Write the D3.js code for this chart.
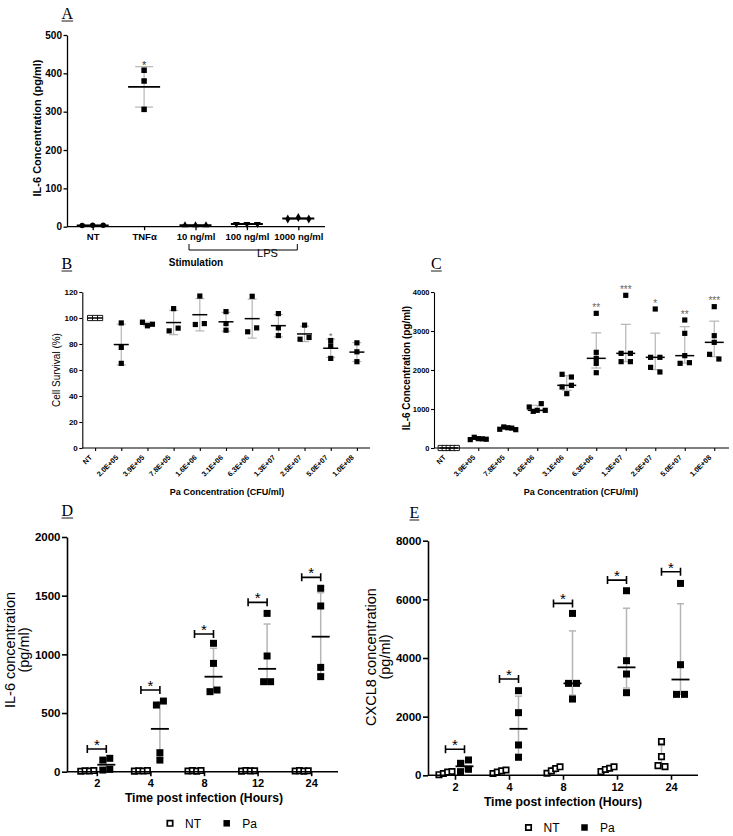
<!DOCTYPE html>
<html><head><meta charset="utf-8">
<script src="https://cdn.jsdelivr.net/npm/d3@7"></script>
<style>body{margin:0;background:#fff}</style>
</head><body>
<script>
// ---------------- DATA ----------------
// Panel A
const aCats = ["NT", "TNFα", "10 ng/ml", "100 ng/ml", "1000 ng/ml"];
const aVals = [[3, 4, 4], [408, 380, 306], [4, 4, 4], [7, 7, 7], [20, 24, 20]];
const aStars = ["", "*", "", "", ""];
const aTicks = [0, 100, 200, 300, 400, 500];

// Panel B
const bCats = ["NT", "2.0E+05", "3.9E+05", "7.8E+05", "1.6E+06", "3.1E+06", "6.3E+06", "1.3E+07", "2.5E+07", "5.0E+07", "1.0E+08"];
const bVals = [[100, 100, 100], [96.2, 77.4, 65.1], [96.8, 94, 95.2], [107.2, 90.1, 92.2], [116.9, 95, 95.7],
  [104.9, 95.7, 90.6], [116.7, 89.4, 92.4], [103.4, 92.4, 86.5], [94.5, 83.7, 85], [82.7, 78.6, 68.9], [80.9, 74, 66.4]];
const bStars = ["", "", "", "", "", "", "", "", "", "*", ""];
const bTicks = [0, 20, 40, 60, 80, 100, 120];

// Panel C
const cCats = ["NT", "3.9E+05", "7.8E+05", "1.6E+06", "3.1E+06", "6.3E+06", "1.3E+07", "2.5E+07", "5.0E+07", "1.0E+08"];
const cVals = [[0, 0, 0, 0, 0], [215, 275, 240, 235, 225], [480, 540, 520, 510, 470], [1051, 940, 966, 1137, 966],
  [1889, 1820, 1564, 1607, 1393], [3453, 2453, 2299, 2171, 1931], [3915, 2427, 2427, 2214, 2214],
  [3564, 2325, 2325, 2068, 1949], [3282, 2940, 2368, 2171, 2188], [3624, 2880, 2709, 2402, 2282]];
const cStars = ["", "", "", "", "", "**", "***", "*", "**", "***"];
const cTicks = [0, 1000, 2000, 3000, 4000];

// Panels D and E
const timeCats = ["2", "4", "8", "12", "24"];
const dNT = [[4, 8, 6, 10], [5, 8, 6, 9], [6, 9, 5, 10], [5, 10, 7, 8], [6, 9, 5, 8]];
const dPa = [[99, 114, 14, 20], [568, 602, 162, 99], [1094, 923, 682, 696], [1349, 986, 767, 767], [1563, 1412, 889, 810]];
const dSig = [193, 696, 1173, 1443, 1656];
const dTicks = [0, 500, 1000, 1500, 2000];

const eNT = [[20, 60, 110, 130], [60, 110, 150, 180], [70, 150, 230, 290], [125, 200, 240, 290], [1147, 636, 330, 295]];
const ePa = [[409, 523, 125, 205], [2885, 2136, 1034, 614], [5520, 3135, 3135, 2600], [6294, 3908, 3454, 2817], [6543, 3772, 2760, 2760]];
const eSig = [886, 3283, 5862, 6657, 6941];
const eTicks = [0, 2000, 4000, 6000, 8000];

const legendNames = ["NT", "Pa"];

// ---------------- HELPERS ----------------
const FONT = '"Liberation Sans", Arial, sans-serif';
const SERIF = '"Liberation Serif", "Times New Roman", serif';
const GRAY = "#b5b5b5";
const svg = d3.select("body").append("svg").attr("width", 733).attr("height", 836).style("display", "block");

function gpQ(s, p) {
  const n = s.length, h = (n + 1) * p;
  if (h <= 1) return s[0];
  if (h >= n) return s[n - 1];
  const lo = Math.floor(h);
  return s[lo - 1] + (h - lo) * (s[lo] - s[lo - 1]);
}
function stats(vals, kind) {
  if (kind === "meanSD") {
    const m = d3.mean(vals), sd = d3.deviation(vals) || 0;
    return { c: m, lo: m - sd, hi: m + sd };
  }
  const s = [...vals].sort(d3.ascending);
  return { c: d3.median(s), lo: gpQ(s, 0.25), hi: gpQ(s, 0.75) };
}
function swarm(vals, y, step, maxW, thr) {
  const pts = vals.map((v, i) => ({ v, i, py: y(v) })).sort((a, b) => a.py - b.py);
  const offs = vals.map(() => 0);
  const clusters = [];
  let cur = [pts[0]];
  for (let k = 1; k < pts.length; k++) {
    if (pts[k].py - pts[k - 1].py < thr) cur.push(pts[k]);
    else { clusters.push(cur); cur = [pts[k]]; }
  }
  clusters.push(cur);
  clusters.forEach(c => {
    const n = c.length;
    if (n < 2) return;
    const s = Math.min(step, maxW / (n - 1));
    c.sort((a, b) => a.i - b.i).forEach((p, j) => offs[p.i] = (j - (n - 1) / 2) * s);
  });
  return offs;
}
function symPath(type, s) {
  switch (type) {
    case "circle": return d3.symbol(d3.symbolCircle, Math.PI * s * s / 4)();
    case "triangle": case "triangleDown": return d3.symbol(d3.symbolTriangle, Math.sqrt(3) / 4 * (s * 1.25) ** 2)();
    case "diamond": return d3.symbol(d3.symbolDiamond, s * s * 0.75)();
    default: return d3.symbol(d3.symbolSquare, s * s)();
  }
}
function drawGroup(g, o) {
  const st = stats(o.vals, o.kind);
  if (o.err !== false) {
    const ew = o.errW || 1.2;
    g.append("line").attr("x1", o.x).attr("x2", o.x).attr("y1", o.y(st.lo)).attr("y2", o.y(st.hi))
      .attr("stroke", GRAY).attr("stroke-width", ew);
    [st.lo, st.hi].forEach(v => g.append("line").attr("x1", o.x - o.cap).attr("x2", o.x + o.cap)
      .attr("y1", o.y(v)).attr("y2", o.y(v)).attr("stroke", GRAY).attr("stroke-width", ew));
  }
  const offs = swarm(o.vals, o.y, o.step, o.maxW, o.thr);
  const d = symPath(o.sym, o.size);
  o.vals.forEach((v, i) => {
    g.append("path").attr("d", d)
      .attr("transform", `translate(${o.x + offs[i]},${o.y(v)})` + (o.sym === "triangleDown" ? " rotate(180)" : ""))
      .attr("fill", o.open ? "#fff" : "#000")
      .attr("stroke", o.open ? "#000" : "none")
      .attr("stroke-width", o.open ? o.sw : 0);
  });
  if (o.mean !== false) {
    g.append("line").attr("x1", o.x - o.half).attr("x2", o.x + o.half).attr("y1", o.y(st.c)).attr("y2", o.y(st.c))
      .attr("stroke", "#000").attr("stroke-width", o.meanW || 1.5);
  }
  return st;
}
function styleAxis(g, fs, sw) {
  g.selectAll(".domain").attr("stroke", "#000").attr("stroke-width", sw);
  g.selectAll(".tick line").attr("stroke", "#000").attr("stroke-width", sw);
  g.selectAll(".tick text").attr("font-family", FONT).attr("font-weight", "bold").attr("font-size", fs).attr("fill", "#000");
}
function yAxis(x, y, ticks, fs, ts, sw) {
  const g = svg.append("g").attr("transform", `translate(${x},0)`)
    .call(d3.axisLeft(y).tickValues(ticks).tickFormat(d3.format("d")).tickSize(ts).tickPadding(1.5).tickSizeOuter(0));
  styleAxis(g, fs, sw);
  return g;
}
function xAxisLine(x0, x1, yy, sw) {
  svg.append("line").attr("x1", x0).attr("x2", x1).attr("y1", yy).attr("y2", yy).attr("stroke", "#000").attr("stroke-width", sw);
}
function text(x, y, s, o = {}) {
  const t = svg.append("text").attr("x", x).attr("y", y).text(s)
    .attr("font-family", o.family || FONT).attr("font-size", o.fs || 10)
    .attr("font-weight", o.bold ? "bold" : "normal").attr("fill", o.fill || "#000")
    .attr("text-anchor", o.anchor || "middle");
  if (o.rotate) t.attr("transform", `rotate(${o.rotate},${x},${y})`);
  return t;
}
function panelLabel(x, y, s) {
  const t = text(x, y, s, { family: SERIF, fs: 16, anchor: "start" });
  const w = t.node().getComputedTextLength();
  svg.append("line").attr("x1", x).attr("x2", x + w).attr("y1", y + 2).attr("y2", y + 2).attr("stroke", "#000").attr("stroke-width", 0.9);
}
function rotatedXLabels(cats, x, y0, fs) {
  cats.forEach(c => {
    svg.append("text").text(c).attr("font-family", FONT).attr("font-weight", "bold").attr("font-size", fs)
      .attr("text-anchor", "end")
      .attr("transform", `translate(${x(c) - 2.5},${y0 + 10}) rotate(-45)`);
  });
}

// ---------------- PANEL A ----------------
{
  const y = d3.scaleLinear().domain([0, 500]).range([226.7, 35]);
  const x = d3.scalePoint().domain(aCats).range([67, 324]).padding(0.5);
  const syms = ["circle", "square", "triangle", "triangleDown", "diamond"];
  const g = svg.append("g");
  aCats.forEach((c, i) => {
    drawGroup(g, { x: x(c), y, vals: aVals[i], kind: "meanSD", sym: syms[i], size: 5.5, step: 10.5, maxW: 22, thr: 5,
      half: 16, cap: 9, meanW: 1.8 });
    if (aStars[i]) text(x(c), y(d3.max(aVals[i])) - 1, aStars[i], { fs: 11, fill: "#333" });
  });
  yAxis(67, y, aTicks, 10, 3.5, 1.3);
  xAxisLine(67, 325, 226.7, 1.3);
  const xa = svg.append("g").attr("transform", "translate(0,226.7)")
    .call(d3.axisBottom(x).tickSize(3.5).tickPadding(3).tickSizeOuter(0));
  xa.select(".domain").remove();
  styleAxis(xa, 9.5, 1.3);
  // LPS bracket
  const bx0 = x(aCats[2]) - 6.5, bx1 = x(aCats[4]) - 1;
  svg.append("path").attr("d", `M${bx0},244V250H${bx1}V244`).attr("fill", "none").attr("stroke", "#000").attr("stroke-width", 1);
  text(267.5, 257, "LPS", { fs: 11 });
  text(196, 266, "Stimulation", { fs: 10, bold: true });
  text(41, 128, "IL-6 Concentration (pg/ml)", { fs: 11, bold: true, rotate: -90 });
  panelLabel(61.5, 19, "A");
}

// ---------------- PANEL B ----------------
{
  const y = d3.scaleLinear().domain([0, 120]).range([448, 292]);
  const x = d3.scalePoint().domain(bCats).range([82, 370]).padding(0.5);
  const g = svg.append("g");
  bCats.forEach((c, i) => {
    drawGroup(g, { x: x(c), y, vals: bVals[i], kind: "meanSD", sym: "square", size: 5.2, open: i === 0, sw: 0.9,
      step: 9, maxW: 10, thr: 4.8, half: 7.5, cap: 4.5, meanW: 1.5 });
    if (bStars[i]) text(x(c), y(d3.max(bVals[i])) - 1.5, bStars[i], { fs: 9, fill: "#666" });
  });
  yAxis(82.3, y, bTicks, 8, 3, 1.1);
  xAxisLine(82.3, 370, 448, 1.1);
  const xa = svg.append("g").attr("transform", "translate(0,448)")
    .call(d3.axisBottom(x).tickSize(3).tickFormat(""));
  xa.select(".domain").remove();
  styleAxis(xa, 8, 1.1);
  rotatedXLabels(bCats, x, 448, 7.2);
  text(227, 495, "Pa Concentration (CFU/ml)", { fs: 9, bold: true });
  text(60, 370, "Cell Survival (%)", { fs: 10, rotate: -90 });
  panelLabel(61.5, 269, "B");
}

// ---------------- PANEL C ----------------
{
  const y = d3.scaleLinear().domain([0, 4000]).range([448, 292]);
  const x = d3.scalePoint().domain(cCats).range([434, 729]).padding(0.5);
  const g = svg.append("g");
  cCats.forEach((c, i) => {
    drawGroup(g, { x: x(c), y, vals: cVals[i], kind: "medianIQR", sym: "square", size: 5.2, open: i === 0, sw: 0.9,
      step: 9.3, maxW: 16, thr: 4.8, half: 9.5, cap: 5, meanW: 1.5 });
    if (cStars[i]) text(x(c), y(d3.max(cVals[i])) - 2.5, cStars[i], { fs: 10, fill: "#666" });
  });
  yAxis(434, y, cTicks, 7.5, 3, 1.1);
  xAxisLine(434, 729, 448, 1.1);
  const xa = svg.append("g").attr("transform", "translate(0,448)")
    .call(d3.axisBottom(x).tickSize(3).tickFormat(""));
  xa.select(".domain").remove();
  styleAxis(xa, 8, 1.1);
  rotatedXLabels(cCats, x, 448, 7.2);
  text(581, 495, "Pa Concentration (CFU/ml)", { fs: 9, bold: true });
  text(410, 368, "IL-6 Concentration (pg/ml)", { fs: 10, bold: true, rotate: -90 });
  panelLabel(431, 269, "C");
}

// ---------------- PANELS D & E ----------------
function timePanel(o) {
  const y = d3.scaleLinear().domain([0, o.max]).range([o.y0, o.y1]);
  const x = d3.scalePoint().domain(timeCats).range([o.xr0, o.xr1]).padding(0.5);
  const g = svg.append("g");
  timeCats.forEach((c, i) => {
    const cx = x(c);
    drawGroup(g, { x: cx - 9.5, y, vals: o.nt[i], kind: "medianIQR", sym: "square", size: 5.4, open: true, sw: 1.7,
      step: 7, maxW: 13, thr: 5.5, half: 9, cap: 3.5, mean: false, errW: 1.5 });
    drawGroup(g, { x: cx + 9.5, y, vals: o.pa[i], kind: "medianIQR", sym: "square", size: 7, step: o.step, maxW: 12,
      thr: 5.5, half: 9, cap: 3.5, meanW: 1.8, errW: 1.5 });
    const by = y(o.sig[i]);
    svg.append("path").attr("d", `M${cx - 9.5},${by - 4}V${by + 4}M${cx - 9.5},${by}H${cx + 9.5}M${cx + 9.5},${by - 4}V${by + 4}`)
      .attr("fill", "none").attr("stroke", "#000").attr("stroke-width", 1.6);
    text(cx, by + 1, "*", { fs: 15 });
  });
  yAxis(o.xAxis, y, o.ticks, 11.5, 5, 1.6);
  xAxisLine(o.xAxis, o.xEnd, o.y0, 1.6);
  const xa = svg.append("g").attr("transform", `translate(0,${o.y0})`)
    .call(d3.axisBottom(x).tickSize(4.5).tickPadding(o.tickPad).tickSizeOuter(0));
  xa.select(".domain").remove();
  styleAxis(xa, 11, 1.6);
  text(o.titleX, o.titleY, "Time post infection (Hours)", { fs: 12.2, bold: true });
  text(o.lab1X, o.labY, o.yLab, { fs: 14.5, rotate: -90 });
  text(o.lab2X, o.labY, "(pg/ml)", { fs: 14.5, rotate: -90 });
  panelLabel(o.pX, o.pY, o.pLabel);
  // legend
  const lg = svg.append("g");
  lg.append("path").attr("d", symPath("square", 5.4)).attr("transform", `translate(${o.legX[0]},${o.legY})`)
    .attr("fill", "#fff").attr("stroke", "#000").attr("stroke-width", 1.7);
  lg.append("path").attr("d", symPath("square", 6.5)).attr("transform", `translate(${o.legX[1]},${o.legY})`).attr("fill", "#000");
  text(o.legX[0] + 15, o.legY + 4.5, legendNames[0], { fs: 12, anchor: "start" });
  text(o.legX[1] + 15.5, o.legY + 4.5, legendNames[1], { fs: 12, anchor: "start" });
}
timePanel({ max: 2000, y0: 771.7, y1: 537, xr0: 70, xr1: 338, xAxis: 67, xEnd: 338, ticks: dTicks,
  nt: dNT, pa: dPa, sig: dSig, step: 7, tickPad: 3.5, titleX: 204, titleY: 801.5, yLab: "IL-6 concentration",
  lab1X: 15, lab2X: 29, labY: 650, pX: 61.5, pY: 516, pLabel: "D", legX: [170, 226.7], legY: 823.3 });
timePanel({ max: 8000, y0: 775.3, y1: 540.7, xr0: 428, xr1: 698, xAxis: 428, xEnd: 698, ticks: eTicks,
  nt: eNT, pa: ePa, sig: eSig, step: 8, tickPad: 3.5, titleX: 563, titleY: 805.5, yLab: "CXCL8 concentration",
  lab1X: 376, lab2X: 389.5, labY: 657, pX: 409.5, pY: 518, pLabel: "E", legX: [528.5, 584.5], legY: 827.5 });
</script>
</body></html>
